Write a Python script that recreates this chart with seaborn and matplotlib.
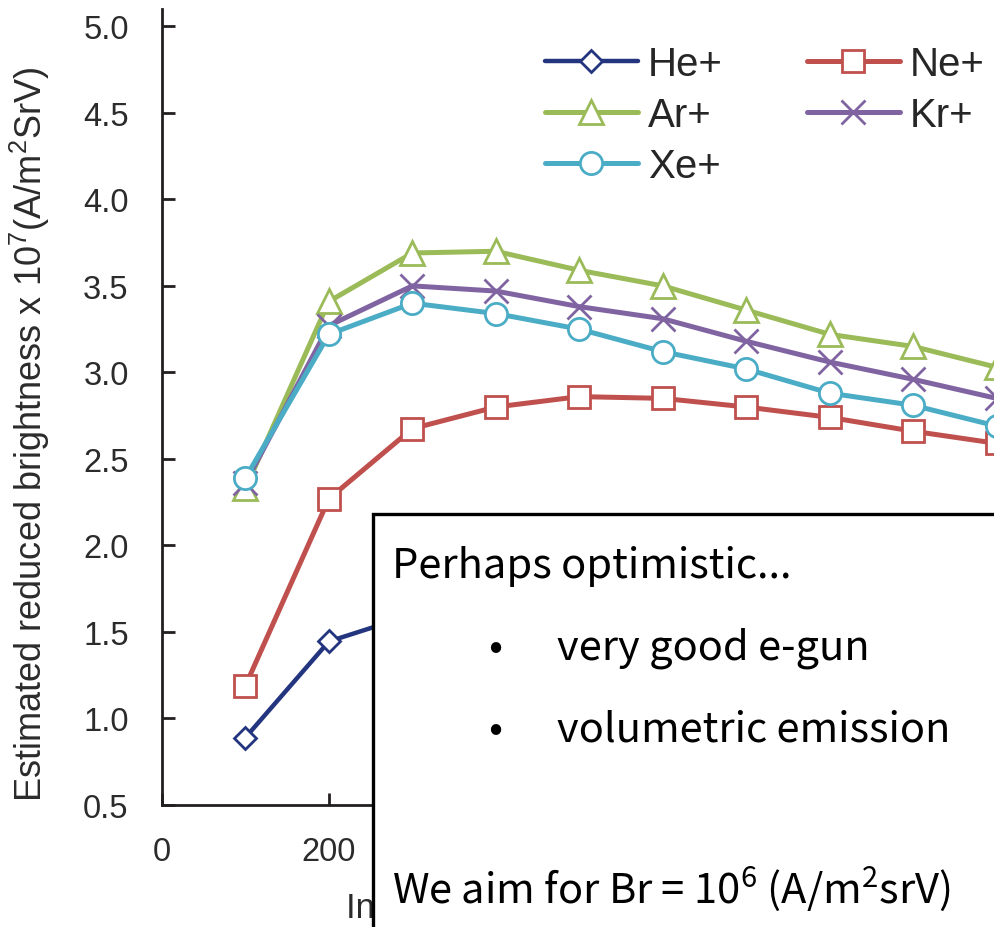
import matplotlib
matplotlib.use("Agg")
import matplotlib.pyplot as plt
import matplotlib.patches as mpatches
import seaborn as sns
import pandas as pd

# ---- data ----
energy = [100, 200, 300, 400, 500, 600, 700, 800, 900, 1000]
he = [0.89, 1.445, 1.60, 1.67, 1.70, 1.70, 1.68, 1.65, 1.62, 1.58]
ne = [1.19, 2.27, 2.675, 2.80, 2.86, 2.85, 2.80, 2.74, 2.66, 2.59]
ar = [2.33, 3.41, 3.69, 3.70, 3.59, 3.50, 3.36, 3.22, 3.15, 3.03]
kr = [2.36, 3.27, 3.50, 3.47, 3.38, 3.31, 3.18, 3.06, 2.96, 2.85]
xe = [2.39, 3.22, 3.40, 3.34, 3.25, 3.12, 3.02, 2.88, 2.81, 2.69]

series_names = ["He+", "Ne+", "Ar+", "Kr+", "Xe+"]
series_vals = [he, ne, ar, kr, xe]
colors = ["#23357F", "#C0504D", "#9BBB59", "#8064A2", "#4BACC6"]
markers = ["D", "s", "^", "x", "o"]
msizes = [11.5, 15.5, 17, 17, 16]
lwidths = [3.2, 3.6, 3.6, 3.6, 3.6]

y_ticks = [0.5, 1.0, 1.5, 2.0, 2.5, 3.0, 3.5, 4.0, 4.5, 5.0]
x_ticks = [0, 200, 400, 600, 800]

sns.set_theme(style="ticks")
plt.rcParams["font.family"] = ["Liberation Sans", "DejaVu Sans"]

W, H = 994, 928
fig = plt.figure(figsize=(W / 100, H / 100), dpi=100)
ax = fig.add_axes([162 / W, 1 - 806 / H, 918 / W, (806 - 10) / H])

handles = {}
for name, vals, c, m, ms, lw in zip(series_names, series_vals, colors, markers, msizes, lwidths):
    df = pd.DataFrame({"energy": energy, "value": vals})
    sns.lineplot(data=df, x="energy", y="value", ax=ax, color=c, lw=lw,
                 marker=m, markersize=ms, markerfacecolor="white",
                 markeredgecolor=c, markeredgewidth=2.0, label=name,
                 legend=False)
    handles[name] = ax.lines[-1]

ax.set_xlim(0, 1100)
ax.set_ylim(0.5, 5.1)
ax.set_xticks(x_ticks)
ax.set_yticks(y_ticks)
ax.set_yticklabels([f"{v:.1f}" for v in y_ticks])
ax.tick_params(axis="both", direction="in", length=9, width=2, colors="#231F20",
               labelsize=23.5, labelcolor="#2B2B2B")
ax.tick_params(axis="y", pad=24)
ax.tick_params(axis="x", pad=22)
for s in ["left", "bottom"]:
    ax.spines[s].set_linewidth(2)
    ax.spines[s].set_color("#231F20")
sns.despine(ax=ax)

ax.set_ylabel(r"Estimated reduced brightness x 10$\mathregular{^{7}}$(A/m$\mathregular{^{2}}$SrV)",
              fontsize=26, color="#2B2B2B")
ax.yaxis.set_label_coords((52 - 162) / 918, (806 - 434) / 796)
ax.set_xlabel("Incident electron energy (eV)", fontsize=25, color="#2B2B2B")
ax.xaxis.set_label_coords((346 - 162) / 918, -(892 - 806) / 796)
ax.xaxis.label.set_horizontalalignment("left")

order = ["He+", "Ar+", "Xe+", "Ne+", "Kr+"]
leg = ax.legend([handles[n] for n in order], order, ncol=2, frameon=False,
                loc="upper left", bbox_to_anchor=(545 / W, 1 - 46 / H),
                bbox_transform=fig.transFigure, fontsize=29, handlelength=2.3,
                handletextpad=0.25, columnspacing=2.1, labelspacing=0.32,
                borderpad=0, borderaxespad=0, numpoints=1)

# overlay text box
rect = mpatches.Rectangle((373 / W, -0.1), 1.0, (928 - 515) / H + 0.1,
                          transform=fig.transFigure, facecolor="white",
                          edgecolor="black", linewidth=2.4, zorder=10)
fig.patches.append(rect)

box_font = ["Noto Sans CJK KR", "DejaVu Sans"]
tkw = dict(fontsize=30, family=box_font, color="black", zorder=11,
           va="baseline", fontweight="light")
fig.text(392 / W, 1 - 578 / H, "Perhaps optimistic...", **tkw)
fig.text(495 / W, 1 - 660 / H, "\u2022", ha="center", **tkw)
fig.text(557 / W, 1 - 660 / H, "very good e-gun", **tkw)
fig.text(495 / W, 1 - 742 / H, "\u2022", ha="center", **tkw)
fig.text(557 / W, 1 - 742 / H, "volumetric emission", **tkw)
fig.text(392 / W, 1 - 903 / H,
         r"We aim for Br = 10$\mathregular{^{6}}$ (A/m$\mathregular{^{2}}$srV)", **tkw)

fig.savefig("out.png", dpi=100)
